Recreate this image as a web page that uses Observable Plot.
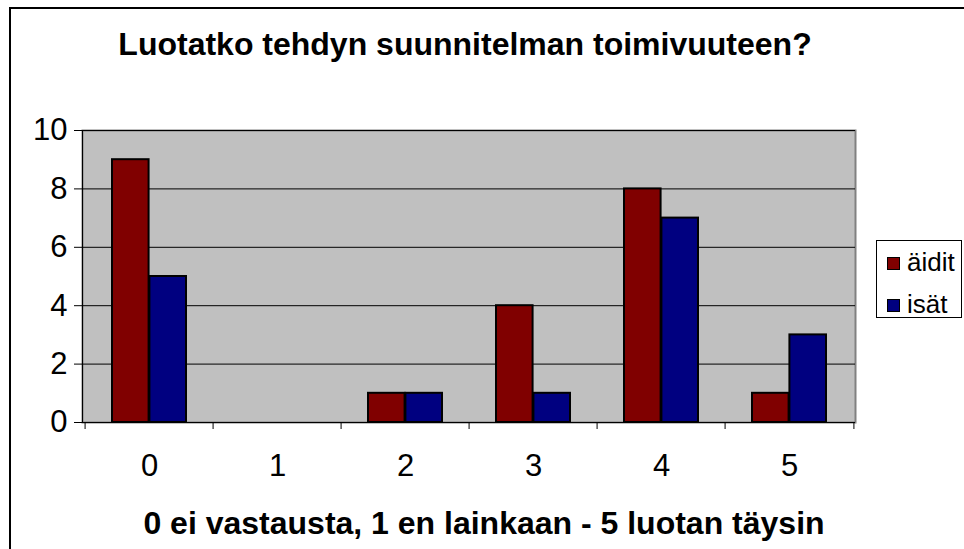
<!DOCTYPE html>
<html>
<head>
<meta charset="utf-8">
<script src="https://cdn.jsdelivr.net/npm/d3@7"></script>
<script src="https://cdn.jsdelivr.net/npm/@observablehq/plot@0.6"></script>
<style>
  html, body { margin: 0; padding: 0; background: #fff; }
  #wrap { position: relative; width: 964px; height: 549px; overflow: hidden; font-family: "Liberation Sans", Arial, sans-serif; }
  #border { position: absolute; left: 9px; top: 7px; width: 1000px; height: 600px; border: 2px solid #000; box-sizing: border-box; }
  #chart { position: absolute; left: 0; top: 0; }
  .title { position: absolute; white-space: nowrap; font-weight: bold; font-size: 32px; line-height: 32px; transform: translateX(-50%); color: #000; }
  #legend { position: absolute; left: 876px; top: 240px; width: 86px; height: 78px; border: 1px solid #000; box-sizing: border-box; background: #fff; }
  .item { position: absolute; left: 10px; font-size: 26px; line-height: 26px; white-space: nowrap; }
  .sw { display: inline-block; width: 11px; height: 11px; border: 1px solid #000; margin-right: 7px; vertical-align: 1px; }
</style>
</head>
<body>
<div id="wrap">
  <div id="border"></div>
  <div id="chart"></div>
  <div class="title" id="t1" style="left:465px; top:28px;"></div>
  <div class="title" id="t2" style="left:484px; top:507px;"></div>
  <div id="legend"></div>
</div>
<script>
const chartTitle = "Luotatko tehdyn suunnitelman toimivuuteen?";
const xTitle = "0 ei vastausta, 1 en lainkaan - 5 luotan täysin";
const categories = ["0", "1", "2", "3", "4", "5"];
const seriesNames = ["äidit", "isät"];
const aidit = [9, 0, 1, 4, 8, 1];
const isat = [5, 0, 1, 1, 7, 3];
const yTicks = [0, 2, 4, 6, 8, 10];
const colors = ["#800000", "#000080"];

document.getElementById("t1").textContent = chartTitle;
document.getElementById("t2").textContent = xTitle;

const W = 964, H = 549;
const mL = 82, mR = 109, mT = 130, mB = 127;
const band = (W - mL - mR) / categories.length;
const outer = 27, barW = (band - 2 * outer) / 2;

const dA = categories.map((c, i) => ({cat: c, value: aidit[i]})).filter(d => d.value > 0);
const dI = categories.map((c, i) => ({cat: c, value: isat[i]})).filter(d => d.value > 0);

const plot = Plot.plot({
  width: W, height: H,
  marginLeft: mL, marginRight: mR, marginTop: mT, marginBottom: mB,
  style: {fontFamily: "'Liberation Sans', Arial, sans-serif", fontSize: "31px", background: "transparent", color: "#000", overflow: "visible"},
  x: {domain: categories, padding: 0, label: null},
  y: {domain: [0, 10], label: null},
  marks: [
    Plot.frame({fill: "#c0c0c0", stroke: "#808080", strokeWidth: 2}),
    Plot.gridY(yTicks, {stroke: "#000", strokeOpacity: 1, strokeWidth: 1}),
    Plot.barY(dA, {x: "cat", y: "value", fill: colors[0], stroke: "#000", strokeWidth: 2, insetLeft: outer, insetRight: outer + barW}),
    Plot.barY(dI, {x: "cat", y: "value", fill: colors[1], stroke: "#000", strokeWidth: 2, insetLeft: outer + barW, insetRight: outer}),
    Plot.frame({anchor: "left", stroke: "#000", strokeWidth: 1}),
    Plot.ruleY([0], {stroke: "#000", strokeWidth: 1}),
    Plot.axisY({ticks: yTicks, tickSize: 8, tickPadding: 7, stroke: "#000", strokeOpacity: 1}),
    Plot.axisX({tickSize: 0, tickPadding: 31}),
    Plot.axisX({tickSize: 7, tickFormat: () => "", dx: -band / 2, stroke: "#000", strokeOpacity: 1}),
    Plot.axisX({ticks: [categories[categories.length - 1]], tickSize: 7, tickFormat: () => "", dx: band / 2, stroke: "#000", strokeOpacity: 1})
  ]
});
document.getElementById("chart").appendChild(plot);

const legend = document.getElementById("legend");
seriesNames.forEach((name, i) => {
  const it = document.createElement("div");
  it.className = "item";
  it.style.top = (i === 0 ? 8 : 50) + "px";
  const sw = document.createElement("span");
  sw.className = "sw";
  sw.style.background = colors[i];
  it.appendChild(sw);
  it.appendChild(document.createTextNode(name));
  legend.appendChild(it);
});
</script>
</body>
</html>
